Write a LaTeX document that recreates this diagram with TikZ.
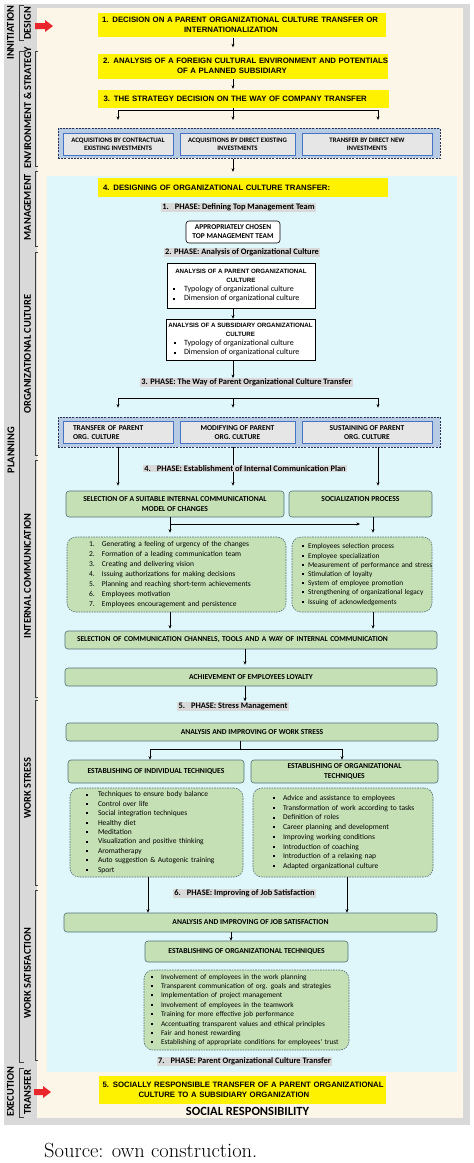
\documentclass[tikz,border=0pt]{standalone}
\usepackage{fontspec}
\newfontfamily\calibri{Carlito}
\newfontfamily\arialf{Liberation Sans}
\usetikzlibrary{arrows.meta}

\definecolor{framegray}{RGB}{217,217,217}
\definecolor{beige}{RGB}{252,246,232}
\definecolor{cyanbg}{RGB}{223,247,250}
\definecolor{ylw}{RGB}{255,242,0}
\definecolor{contblue}{RGB}{184,203,229}
\definecolor{dashblue}{RGB}{40,50,80}
\definecolor{innergray}{RGB}{231,230,230}
\definecolor{innerblue}{RGB}{68,114,196}
\definecolor{grn}{RGB}{197,224,180}
\definecolor{grnline}{RGB}{82,113,125}
\definecolor{phasegray}{RGB}{217,217,217}
\definecolor{redarr}{RGB}{232,38,43}

\newcommand{\sqbul}{\raisebox{1.4pt}{\rule{2pt}{2pt}}}
\newcommand{\bitem}[2]{\mbox{\makebox[#1][l]{\sqbul}#2}}
\newcommand{\nitem}[2]{\mbox{\makebox[13pt][l]{#1.}#2}}
\newcommand{\ttlfont}{\arialf\bfseries\fontsize{6.2}{7.3}\selectfont}

\tikzset{
  sz/.style 2 args={minimum width=#1pt, minimum height=#2pt},
  ybox/.style={fill=ylw, inner sep=0pt, align=left, text width=280pt,
    font=\arialf\bfseries\fontsize{7.8}{10}\selectfont},
  invbox/.style={draw=dashblue, dash pattern=on 2pt off 1.2pt, line width=0.8pt, fill=contblue},
  ibox/.style={draw=innerblue, line width=0.9pt, fill=innergray, inner sep=0pt, align=center,
    font=\calibri\bfseries\fontsize{6.8}{8.4}\selectfont},
  gbox/.style={draw=grnline, line width=0.6pt, fill=grn, rounded corners=3pt, inner sep=0pt,
    align=center, font=\calibri\bfseries\fontsize{7.6}{10}\selectfont},
  gdash/.style={gbox, dash pattern=on 1.6pt off 1pt, rounded corners=9pt, align=left,
    font=\calibri\fontsize{7.5}{10}\selectfont},
  wbox/.style={draw, line width=0.6pt, fill=white, inner sep=0pt, align=center},
  phasetxt/.style={fill=phasegray, inner xsep=1.5pt, inner ysep=0.6pt,
    font=\calibri\bfseries\fontsize{8.4}{10}\selectfont},
  lab/.style={rotate=90, inner sep=0pt, font=\calibri\bfseries\fontsize{10.4}{12}\selectfont},
  brk/.style={line width=0.6pt, draw=black!75},
  arr/.style={line width=0.5pt, -{Stealth[length=3.5pt, width=3pt]}}
}

\begin{document}
\begin{tikzpicture}[x=1pt, y=-1pt]
    \useasboundingbox (0,0) rectangle (474,1163);

    % Frame and backgrounds
    \fill[framegray] (4,4) rectangle (470,1125);
    \fill[beige] (37,8) rectangle (463,1118);
    \fill[cyanbg] (47,176) rectangle (457,1072);

    % Red arrows
    \fill[redarr] (35,23) -- (45,23) -- (45,20) -- (53,26) -- (45,32) -- (45,29) -- (35,29) -- cycle;
    \fill[redarr] (34,1089) -- (43,1089) -- (43,1086) -- (51,1092) -- (43,1098) -- (43,1095) -- (34,1095) -- cycle;

    % Side labels
    \node[lab] (ini) at (10.5,32.5) {INNITIATION};
    \node[lab] (des) at (27.5,23.5) {DESIGN};
    \node[lab] (pla) at (11,450) {PLANNING};
    \node[lab] (env) at (27.5,108) {ENVIRONMENT \& STRATEGY};
    \node[lab] (man) at (27.5,207) {MANAGEMENT};
    \node[lab] (orgc) at (27.5,354) {ORGANIZATIONAL CULTURE};
    \node[lab] (intc) at (27.5,576) {INTERNAL COMMUNICATION};
    \node[lab] (wst) at (27.5,788) {WORK STRESS};
    \node[lab] (wsa) at (27.5,973) {WORK SATISFACTION};
    \node[lab] (exe) at (10.5,1092) {EXECUTION};
    \node[lab] (tra) at (27.5,1092.5) {TRANSFER};

    % Brackets
    \draw[brk] (24,5) -| (19,40) -- (24,40);
    \draw[brk] (24,51) -| (19,1062) -- (24,1062);
    \draw[brk] (24,1068) -| (19,1117) -- (24,1117);
    \draw[brk] (38,51) -| (35,166) -- (38,166);
    \draw[brk] (38,171) -| (35,246) -- (38,246);
    \draw[brk] (38,252) -| (35,455) -- (38,455);
    \draw[brk] (38,460) -| (35,697) -- (38,697);
    \draw[brk] (38,700) -| (35,885) -- (38,885);
    \draw[brk] (38,890) -| (35,1060) -- (38,1060);

    % Guide lines for the connectors
    \coordinate (xa) at (233,0);
    \coordinate (xl) at (118,0);
    \coordinate (xr) at (378,0);
    \coordinate (xm) at (170,0);
    \coordinate (xs) at (373,0);
    \coordinate (xc) at (245,0);
    \coordinate (xw) at (240,0);
    \coordinate (xil) at (150,0);
    \coordinate (xor) at (342,0);
    \coordinate (xjl) at (148,0);
    \coordinate (xjr) at (347,0);
    \coordinate (xj) at (231,0);
    \coordinate (b1) at (233,110);
    \coordinate (b2) at (233,398);
    \coordinate (b3) at (240,749);
    \coordinate (hz) at (360,524);

    % Yellow steps 1-3
    \node[ybox, sz={288}{24}] (dec) at (242,25.3)
        {\mbox{1. DECISION ON A PARENT ORGANIZATIONAL CULTURE TRANSFER OR}\\\hspace*{82pt}INTERNATIONALIZATION};
    \node[ybox, sz={290}{25}] (ana) at (243,66)
        {\mbox{2. ANALYSIS OF A FOREIGN CULTURAL ENVIRONMENT AND POTENTIALS}\\\hspace*{74pt}OF A PLANNED SUBSIDIARY};
    \node[ybox, sz={291}{18}] (strat) at (243.5,99)
        {\mbox{3. THE STRATEGY DECISION ON THE WAY OF COMPANY TRANSFER}};

    % Ways of company transfer
    \node[invbox, sz={382}{30}] (inv) at (249,143.3) {};
    \node[ibox, sz={110}{22}] (inv1) at (118,144) {ACQUISITIONS BY CONTRACTUAL\\EXISTING INVESTMENTS};
    \node[ibox, sz={115}{22}] (inv2) at (237.5,144) {ACQUISITIONS BY DIRECT EXISTING\\INVESTMENTS};
    \node[ibox, sz={130}{22}] (inv3) at (367,144) {TRANSFER BY DIRECT NEW\\INVESTMENTS};

    % Step 4 and phases 1-3
    \node[ybox, sz={290}{19}] (dsg) at (243,187.5) {4. DESIGNING OF ORGANIZATIONAL CULTURE TRANSFER:};
    \node[phasetxt] (ph1) at (238.5,207.5) {1.\hspace{6pt}PHASE: Defining Top Management Team};
    \node[wbox, rounded corners=3pt, sz={94}{22}, font=\calibri\bfseries\fontsize{7.4}{9}\selectfont] (tmt)
        at (233,232) {APPROPRIATELY CHOSEN\\TOP MANAGEMENT TEAM};
    \node[phasetxt] (ph2) at (242,252.5) {2. PHASE: Analysis of Organizational Culture};
    \node[wbox, sz={148}{45}, font=\calibri\fontsize{8}{9.3}\selectfont] (parcult) at (241,285.5)
        {{\ttlfont ANALYSIS OF A PARENT ORGANIZATIONAL}\\{\ttlfont CULTURE}\\
         \makebox[136pt][l]{\bitem{11pt}{Typology of organizational culture}}\\
         \makebox[136pt][l]{\bitem{11pt}{Dimension of organizational culture}}};
    \node[wbox, sz={149}{41}, font=\calibri\fontsize{8}{9.3}\selectfont] (subcult) at (240.5,339.5)
        {{\ttlfont ANALYSIS OF A SUBSIDIARY ORGANIZATIONAL}\\{\ttlfont CULTURE}\\
         \makebox[133pt][l]{\bitem{10pt}{Typology of organizational culture}}\\
         \makebox[133pt][l]{\bitem{10pt}{Dimension of organizational culture}}};
    \node[phasetxt] (ph3) at (246.5,382.5) {3. PHASE: The Way of Parent Organizational Culture Transfer};

    % Ways of culture transfer
    \node[invbox, sz={382}{30}] (way) at (249,432) {};
    \node[ibox, sz={110}{22}, align=left, text width=90pt, font=\calibri\bfseries\fontsize{7.5}{9}\selectfont]
        (way1) at (118,432.5) {TRANSFER OF PARENT\\ORG. CULTURE};
    \node[ibox, sz={115}{22}, font=\calibri\bfseries\fontsize{7.5}{9}\selectfont]
        (way2) at (237.5,432.5) {MODIFYING OF PARENT\\ORG. CULTURE};
    \node[ibox, sz={130}{22}, font=\calibri\bfseries\fontsize{7.5}{9}\selectfont]
        (way3) at (367,432.5) {SUSTAINING OF PARENT\\ORG. CULTURE};

    % Internal communication
    \node[gbox, sz={218}{26}] (mdl) at (175,504) {SELECTION OF A SUITABLE INTERNAL COMMUNICATIONAL\\MODEL OF CHANGES};
    \node[gbox, sz={143}{26}] (soc) at (360.5,504) {SOCIALIZATION PROCESS\\\mbox{}};
    \node[gdash, sz={219}{75}, inner xsep=22pt, text width=175pt] (chg) at (176.5,574.5)
        {\nitem{1}{Generating a feeling of urgency of the changes}\\
         \nitem{2}{Formation of a leading communication team}\\
         \nitem{3}{Creating and delivering vision}\\
         \nitem{4}{Issuing authorizations for making decisions}\\
         \nitem{5}{Planning and reaching short-term achievements}\\
         \nitem{6}{Employees motivation}\\
         \nitem{7}{Employees encouragement and persistence}};
    \node[gdash, sz={140}{75}, inner xsep=10pt, text width=120pt, font=\calibri\fontsize{7.3}{9.2}\selectfont]
        (scl) at (362,574.5)
        {\bitem{6pt}{Employees selection process}\\
         \bitem{6pt}{Employee specialization}\\
         \bitem{6pt}{Measurement of performance and stress}\\
         \bitem{6pt}{Stimulation of loyalty}\\
         \bitem{6pt}{System of employee promotion}\\
         \bitem{6pt}{Strengthening of organizational legacy}\\
         \bitem{6pt}{Issuing of acknowledgements}};
    \node[gbox, sz={372}{18}, align=left, inner xsep=12pt, text width=348pt, font=\calibri\bfseries\fontsize{7.5}{9}\selectfont]
        (chan) at (251,640) {SELECTION OF COMMUNICATION CHANNELS, TOOLS AND A WAY OF INTERNAL COMMUNICATION};
    \node[gbox, sz={372}{18}] (loy) at (251,677) {ACHIEVEMENT OF EMPLOYEES LOYALTY};

    % Work stress
    \node[phasetxt] (ph5) at (233,706.5) {5.\hspace{6pt}PHASE: Stress Management};
    \node[gbox, sz={372}{18}] (wsb) at (252,732) {ANALYSIS AND IMPROVING OF WORK STRESS};
    \node[gbox, sz={176}{23}] (ind) at (156,771.5) {ESTABLISHING OF INDIVIDUAL TECHNIQUES};
    \node[gbox, sz={187}{23}] (orgt) at (344.5,771.5) {ESTABLISHING OF ORGANIZATIONAL\\TECHNIQUES};
    \node[gdash, sz={173}{89}, inner xsep=16pt, text width=141pt, font=\calibri\fontsize{7.5}{9.4}\selectfont]
        (indl) at (156.5,832.5)
        {\bitem{12pt}{Techniques to ensure body balance}\\
         \bitem{12pt}{Control over life}\\
         \bitem{12pt}{Social integration techniques}\\
         \bitem{12pt}{Healthy diet}\\
         \bitem{12pt}{Meditation}\\
         \bitem{12pt}{Visualization and positive thinking}\\
         \bitem{12pt}{Aromatherapy}\\
         \bitem{12pt}{Auto suggestion \& Autogenic training}\\
         \bitem{12pt}{Sport}};
    \node[gdash, sz={180}{89}, inner xsep=20pt, text width=140pt, font=\calibri\fontsize{7.5}{9.7}\selectfont]
        (orgl) at (343,832.5)
        {\bitem{10pt}{Advice and assistance to employees}\\
         \bitem{10pt}{Transformation of work according to tasks}\\
         \bitem{10pt}{Definition of roles}\\
         \bitem{10pt}{Career planning and development}\\
         \bitem{10pt}{Improving working conditions}\\
         \bitem{10pt}{Introduction of coaching}\\
         \bitem{10pt}{Introduction of a relaxing nap}\\
         \bitem{10pt}{Adapted organizational culture}};

    % Work satisfaction
    \node[phasetxt] (ph6) at (244.5,893.5) {6.\hspace{6pt}PHASE: Improving of Job Satisfaction};
    \node[gbox, sz={373}{19}] (job) at (250.5,922.5) {ANALYSIS AND IMPROVING OF JOB SATISFACTION};
    \node[gbox, sz={203}{21}] (jtech) at (246.5,951.5) {ESTABLISHING OF ORGANIZATIONAL TECHNIQUES};
    \node[gdash, sz={205}{80}, inner xsep=7pt, text width=191pt, font=\calibri\fontsize{7.3}{9.4}\selectfont]
        (jlist) at (246.5,1010)
        {\bitem{10pt}{Involvement of employees in the work planning}\\
         \bitem{10pt}{Transparent communication of org. goals and strategies}\\
         \bitem{10pt}{Implementation of project management}\\
         \bitem{10pt}{Involvement of employees in the teamwork}\\
         \bitem{10pt}{Training for more effective job performance}\\
         \bitem{10pt}{Accentuating transparent values and ethical principles}\\
         \bitem{10pt}{Fair and honest rewarding}\\
         \bitem{10pt}{Establishing of appropriate conditions for employees' trust}};
    \node[phasetxt] (ph7) at (244.5,1061.5) {7.\hspace{6pt}PHASE: Parent Organizational Culture Transfer};

    % Execution
    \node[ybox, sz={287}{28}] (srt) at (242.5,1089.5)
        {\mbox{5. SOCIALLY RESPONSIBLE TRANSFER OF A PARENT ORGANIZATIONAL}\\\hspace*{36pt}CULTURE TO A SUBSIDIARY ORGANIZATION};
    \node[inner sep=0pt, font=\calibri\bfseries\fontsize{12.5}{14}\selectfont] (sr) at (247.5,1111) {SOCIAL RESPONSIBILITY};

    % Source line
    \node[anchor=west, inner sep=0pt, font=\fontsize{20.5}{24}\selectfont] (src) at (44,1150) {Source: own construction.};

    % Connectors
    \draw[arr, shorten >=6pt] (dec.south -| xa) -- (ana.north -| xa);
    \draw[arr, shorten >=1pt] (ana.south -| xa) -- (strat.north -| xa);
    \draw (strat.south -| xa) -- (b1);
    \draw (b1 -| xl) -- (b1 -| xr);
    \draw[arr, shorten >=8pt] (b1 -| xl) -- (inv.north -| xl);
    \draw[arr, shorten >=8pt] (b1) -- (inv.north -| xa);
    \draw[arr, shorten >=8pt] (b1 -| xr) -- (inv.north -| xr);
    \draw[arr, shorten >=6pt] (inv.south -| xa) -- (dsg.north -| xa);
    \draw[arr] (parcult.south -| xa) -- (subcult.north -| xa);
    \draw[arr] (subcult.south -| xa) -- (ph3.north -| xa);
    \draw (b2 -| xl) -- (b2 -| xr);
    \draw[arr, shorten >=9pt] (b2 -| xl) -- (way.north -| xl);
    \draw[arr, shorten >=9pt] (b2) -- (way.north -| xa);
    \draw[arr, shorten >=9pt] (b2 -| xr) -- (way.north -| xr);
    \draw[arr, shorten >=5pt] (way.south -| xl) -- (mdl.north -| xl);
    \draw[arr, shorten >=5pt] (way.south -| xa) -- (mdl.north -| xa);
    \draw[arr, shorten >=5pt] (way.south -| xr) -- (soc.north -| xr);
    \draw[arr, shorten >=4pt] (mdl.south -| xm) -- (chg.north -| xm);
    \draw[arr] (hz -| xm) -- (hz);
    \draw[arr, shorten >=4pt] (soc.south -| xs) -- (scl.north -| xs);
    \draw[arr, shorten >=2pt] (chg.south -| xm) -- (chan.north -| xm);
    \draw[arr, shorten >=2pt] (scl.south -| xs) -- (chan.north -| xs);
    \draw[arr, shorten >=3pt] (chan.south -| xc) -- (loy.north -| xc);
    \draw[arr, shorten >=1pt] (loy.south -| xc) -- (ph5.north -| xc);
    \draw (wsb.south -| xw) -- (b3);
    \draw (b3 -| xil) -- (b3 -| xor);
    \draw[arr] (b3 -| xil) -- (ind.north -| xil);
    \draw[arr] (b3 -| xor) -- (orgt.north -| xor);
    \draw[arr] (indl.south -| xjl) -- (job.north -| xjl);
    \draw[arr] (orgl.south -| xjr) -- (job.north -| xjr);
    \draw[arr] (job.south -| xj) -- (jtech.north -| xj);

    % Phase 4 lies over its arrows
    \node[phasetxt] (ph4) at (245,468.5) {4.\hspace{6pt}PHASE: Establishment of Internal Communication Plan};

\end{tikzpicture}
\end{document}
